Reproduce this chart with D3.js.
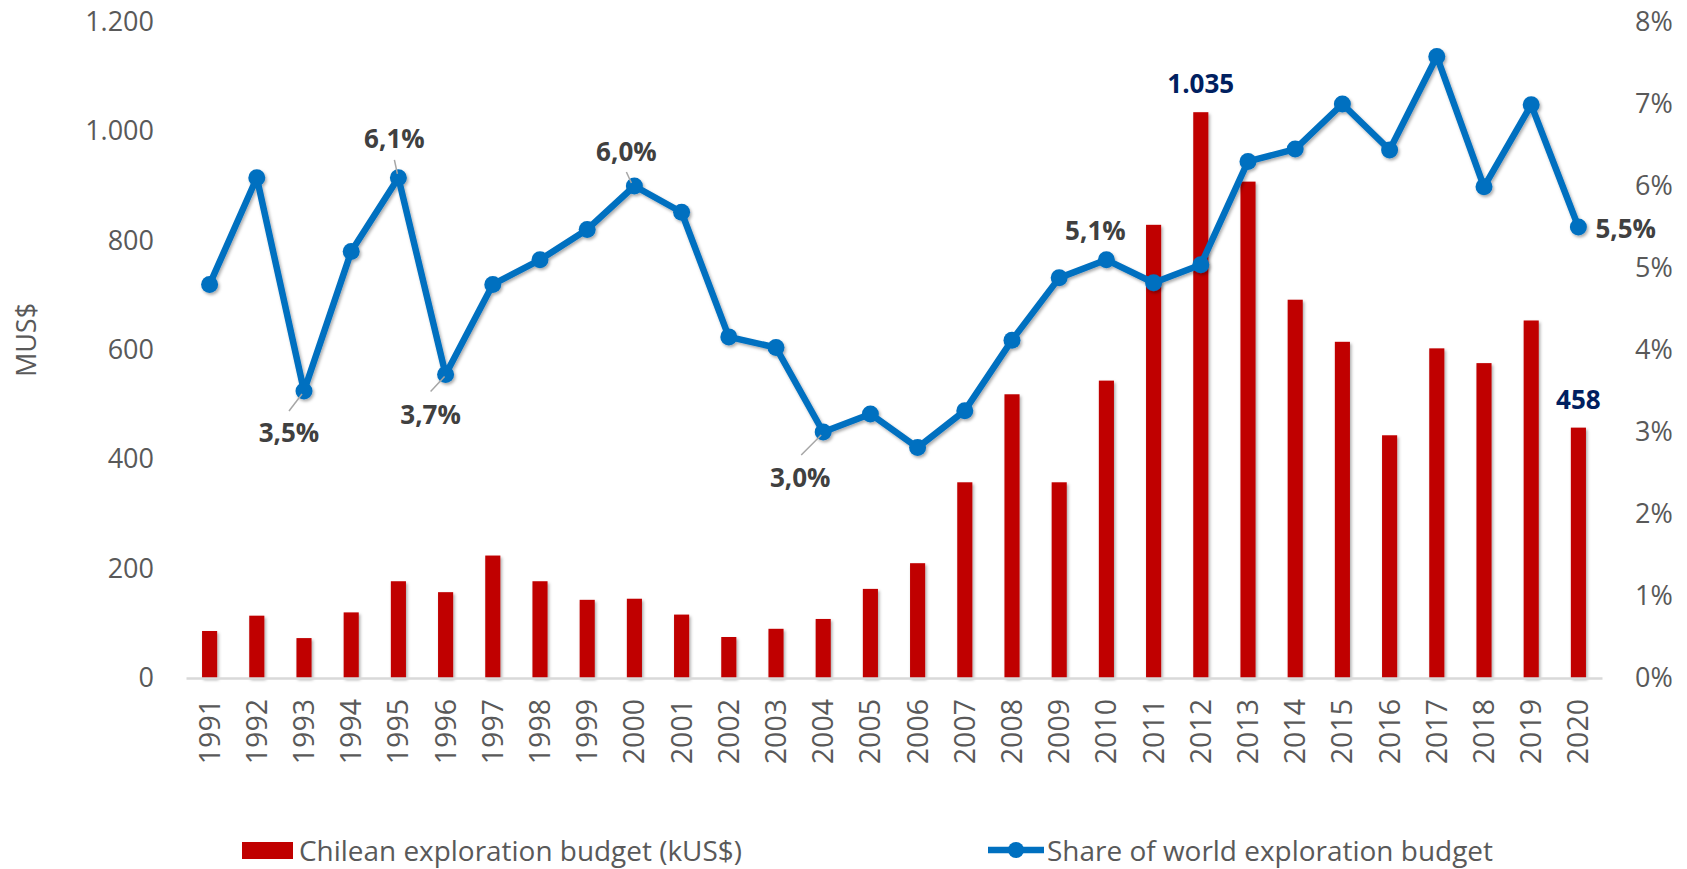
<!DOCTYPE html>
<html>
<head>
<meta charset="utf-8">
<script src="https://cdn.jsdelivr.net/npm/d3@7"></script>
<style>
  html, body { margin: 0; padding: 0; background: #fff; }
  svg { display: block; font-family: "Open Sans", "Noto Sans", sans-serif; }
</style>
</head>
<body>
<svg id="chart" width="1687" height="869"></svg>
<script>
// ---- data ----
const years = [1991,1992,1993,1994,1995,1996,1997,1998,1999,2000,2001,2002,2003,2004,2005,2006,2007,2008,2009,2010,2011,2012,2013,2014,2015,2016,2017,2018,2019,2020];
const budget = [86,114,73,120,177,157,224,177,143,145,116,75,90,108,163,210,358,519,358,544,829,1035,908,692,615,444,603,576,654,458];
const share = [0.048,0.061,0.035,0.052,0.061,0.037,0.048,0.051,0.0547,0.060,0.0568,0.0416,0.0403,0.030,0.0322,0.0281,0.0326,0.0412,0.0488,0.051,0.0482,0.0504,0.063,0.0645,0.070,0.0644,0.0758,0.0599,0.0699,0.055];
const leftTicks = [0,200,400,600,800,1000,1200];
const rightTicks = [0,0.01,0.02,0.03,0.04,0.05,0.06,0.07,0.08];
const budgetLabelYears = [2012, 2020];
const shareLabelYears = [1993, 1995, 1996, 2000, 2004, 2010, 2020];
const seriesNames = ["Chilean exploration budget (kUS$)", "Share of world exploration budget"];
const yTitle = "MUS$";

// ---- layout ----
const svg = d3.select("#chart");
const X0 = 186, X1 = 1602, YB = 678, YT = 22;
const red = "#C00000", blue = "#0070C0", navy = "#002060", grey = "#595959", dark = "#404040";

const defs = svg.append("defs");
const f = defs.append("filter").attr("id","shadow").attr("x","-50%").attr("y","-50%").attr("width","200%").attr("height","200%");
f.append("feDropShadow").attr("dx",1.5).attr("dy",2).attr("stdDeviation",1.6).attr("flood-color","#000").attr("flood-opacity",0.33);

const x = d3.scaleBand().domain(years).range([X0, X1]).paddingInner(0.68).paddingOuter(0.34);
const yL = d3.scaleLinear().domain([0,1200]).range([YB, YT]);
const yR = d3.scaleLinear().domain([0,0.08]).range([YB, YT]);
const cx = d => x(d) + x.bandwidth()/2;

const loc = d3.formatLocale({decimal: ",", thousands: ".", grouping: [3], currency: ["$",""]});
const fmtN = loc.format(",d");
const fmtP = loc.format(".1%");

// left axis
const gl = svg.append("g").attr("transform", `translate(${X0-26},0)`)
  .call(d3.axisLeft(yL).tickValues(leftTicks).tickSize(0).tickPadding(6).tickFormat(fmtN));
gl.select(".domain").remove();
gl.selectAll("text").attr("fill", grey).style("font-size","27px").style("font-family","Open Sans");

// right axis
const gr = svg.append("g").attr("transform", `translate(${X1+27},0)`)
  .call(d3.axisRight(yR).tickValues(rightTicks).tickSize(0).tickPadding(6).tickFormat(d3.format(".0%")));
gr.select(".domain").remove();
gr.selectAll("text").attr("fill", grey).style("font-size","27px").style("font-family","Open Sans");

// bars
svg.append("g").attr("filter","url(#shadow)")
  .selectAll("rect").data(years).join("rect")
  .attr("x", d => x(d))
  .attr("width", x.bandwidth())
  .attr("y", (d,i) => yL(budget[i]))
  .attr("height", (d,i) => YB - yL(budget[i]))
  .attr("fill", red);

// bottom axis
const gb = svg.append("g").attr("transform", `translate(0,${YB})`)
  .call(d3.axisBottom(x).tickSize(0));
gb.select(".domain").attr("stroke","#D9D9D9").attr("stroke-width",2.5);
gb.selectAll("text")
  .attr("transform","rotate(-90)")
  .attr("x",-21).attr("y",0).attr("dy","0.35em")
  .style("text-anchor","end")
  .attr("fill", grey).style("font-size","28.5px").style("font-family","Open Sans");

// y title
svg.append("text")
  .attr("transform", "translate(36,340) rotate(-90)")
  .attr("text-anchor","middle")
  .attr("fill", grey).style("font-size","27px")
  .text(yTitle);

// line
const lineGen = d3.line().x(d => cx(d)).y((d,i) => yR(share[i]));
const lg = svg.append("g").attr("filter","url(#shadow)");
lg.append("path").datum(years).attr("d", lineGen)
  .attr("fill","none").attr("stroke", blue).attr("stroke-width",6.5).attr("stroke-linejoin","round");
lg.selectAll("circle").data(years).join("circle")
  .attr("cx", d => cx(d)).attr("cy", (d,i) => yR(share[i])).attr("r", 8.5).attr("fill", blue);

// budget labels
budgetLabelYears.forEach(yr => {
  const i = years.indexOf(yr);
  svg.append("text").attr("x", cx(yr)).attr("y", yL(budget[i]) - 19)
    .attr("text-anchor","middle").attr("fill", navy)
    .style("font-size","26px").style("font-weight","bold")
    .text(fmtN(budget[i]));
});

// share labels (offsets relative to the point: label center dx, baseline dy, leader end)
const labelOffsets = {
  1993: {dx:-15, dy:51, anchor:"middle", lead:[-15,20,-2,3]},
  1995: {dx:-4,  dy:-30, anchor:"middle", lead:[-4,-18,-1,-4]},
  1996: {dx:-15, dy:49, anchor:"middle", lead:[-15,17,-1,2]},
  2000: {dx:-8,  dy:-25, anchor:"middle", lead:[-8,-14,-3,-3]},
  2004: {dx:-23, dy:55, anchor:"middle", lead:[-22,23,-2,3]},
  2010: {dx:-11, dy:-20, anchor:"middle", lead:null},
  2020: {dx:17,  dy:11, anchor:"start", lead:null}
};
shareLabelYears.forEach(yr => {
  const i = years.indexOf(yr);
  const px = cx(yr), py = yR(share[i]);
  const o = labelOffsets[yr];
  if (o.lead) {
    svg.append("line")
      .attr("x1", px + o.lead[0]).attr("y1", py + o.lead[1])
      .attr("x2", px + o.lead[2]).attr("y2", py + o.lead[3])
      .attr("stroke","#A6A6A6").attr("stroke-width",1.5);
  }
  svg.append("text").attr("x", px + o.dx).attr("y", py + o.dy)
    .attr("text-anchor", o.anchor).attr("fill", dark)
    .style("font-size","26px").style("font-weight","bold")
    .text(fmtP(share[i]));
});

// legend
const legY = 850;
svg.append("rect").attr("x",242).attr("y",legY-8).attr("width",51).attr("height",17).attr("fill",red);
svg.append("text").attr("x",299).attr("y",legY).attr("dominant-baseline","central")
  .attr("fill", grey).style("font-size","27px")
  .attr("textLength", 443).attr("lengthAdjust","spacingAndGlyphs")
  .text(seriesNames[0]);
svg.append("line").attr("x1",988).attr("x2",1044).attr("y1",legY).attr("y2",legY)
  .attr("stroke",blue).attr("stroke-width",6.5);
svg.append("circle").attr("cx",1016).attr("cy",legY).attr("r",8).attr("fill",blue);
svg.append("text").attr("x",1047).attr("y",legY).attr("dominant-baseline","central")
  .attr("fill", grey).style("font-size","27px")
  .attr("textLength", 446).attr("lengthAdjust","spacingAndGlyphs")
  .text(seriesNames[1]);
</script>
</body>
</html>
